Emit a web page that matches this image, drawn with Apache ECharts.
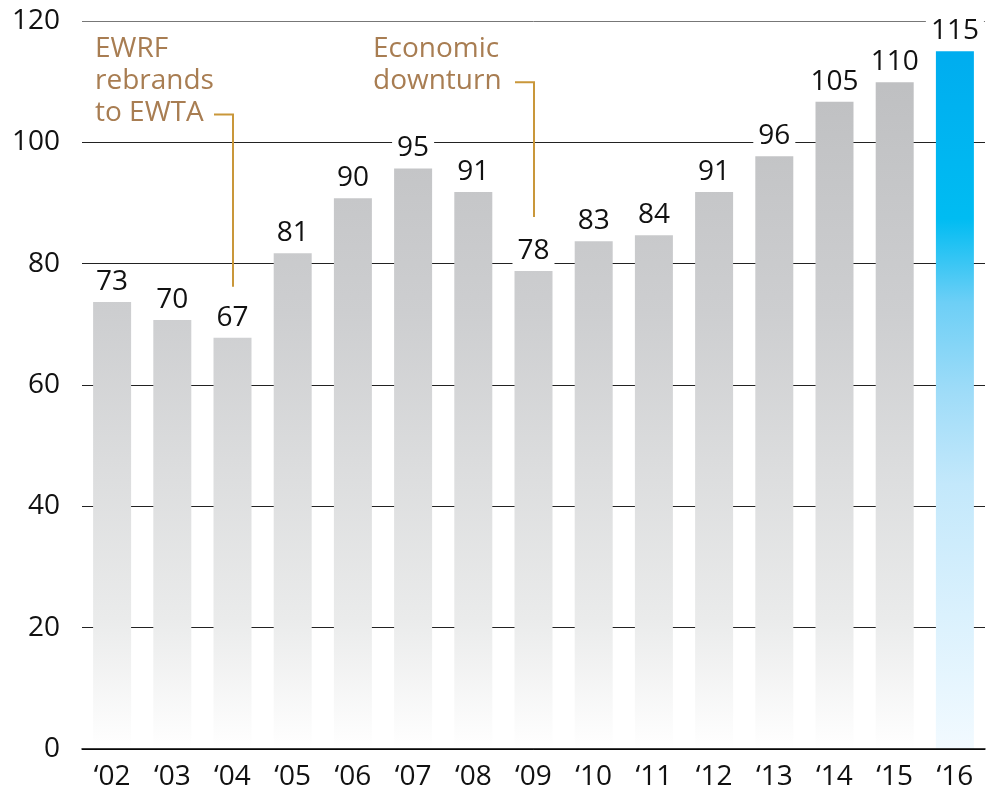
<!DOCTYPE html>
<html>
<head>
<meta charset="utf-8">
<script src="https://cdn.jsdelivr.net/npm/echarts@6/dist/echarts.min.js"></script>
<style>
  html, body { margin: 0; padding: 0; background: #fff; }
  #main { width: 999px; height: 795px; }
</style>
</head>
<body>
<div id="main"></div>
<script>
var years = ['‘02', '‘03', '‘04', '‘05', '‘06', '‘07', '‘08', '‘09', '‘10', '‘11', '‘12', '‘13', '‘14', '‘15', '‘16'];
// bar heights as drawn in the picture, and the numbers printed above them
var barHeights = [73.7, 70.7, 67.8, 81.7, 90.8, 95.7, 91.8, 78.8, 83.7, 84.7, 91.8, 97.7, 106.7, 109.9, 115];
var printed = [73, 70, 67, 81, 90, 95, 91, 78, 83, 84, 91, 96, 105, 110, 115];
var yTicks = [0, 20, 40, 60, 80, 100, 120];
var highlightYear = '‘16';

// annotations: category, text lines, leader top / bottom (axis values)
var noteYears = ['‘04', '‘09'];
var noteTexts = [['EWRF', 'rebrands', 'to EWTA'], ['Economic', 'downturn']];
var noteTop = [104.6, 109.9];
var noteBottom = [76.2, 87.7];

var FONT = 'Open Sans';
var chart = echarts.init(document.getElementById('main'));

var grayFill = new echarts.graphic.LinearGradient(0, 21, 0, 749, [
    { offset: 0, color: '#bbbcbe' },
    { offset: 0.4, color: '#cdced0' },
    { offset: 0.82, color: '#eaebeb' },
    { offset: 1, color: '#ffffff' }
], true);

var blueFill = new echarts.graphic.LinearGradient(0, 0, 0, 1, [
    { offset: 0, color: '#00adef' },
    { offset: 0.24, color: '#00bcf2' },
    { offset: 0.36, color: '#6dcff6' },
    { offset: 0.49, color: '#9fdcf8' },
    { offset: 0.62, color: '#c3e8fb' },
    { offset: 1, color: '#f2faff' }
]);

var barData = barHeights.map((v, i) => years[i] === highlightYear ?
    { value: v, itemStyle: { color: blueFill } } : v);

var option = {
    animation: false,
    grid: { left: 82, right: 14, top: 21, bottom: 46, containLabel: false },
    xAxis: {
        type: 'category',
        data: years,
        z: 3,
        axisLine: { show: true, lineStyle: { color: '#000', width: 1.5 } },
        axisTick: { show: false },
        axisLabel: { color: '#111', fontFamily: FONT, fontSize: 28, margin: 14 }
    },
    yAxis: {
        type: 'value',
        min: yTicks[0],
        max: yTicks[yTicks.length - 1],
        interval: yTicks[1] - yTicks[0],
        axisLine: { show: false },
        axisTick: { show: false },
        axisLabel: { color: '#111', fontFamily: FONT, fontSize: 28, margin: 22 },
        splitLine: {
            lineStyle: {
                color: ['#222', '#222', '#222', '#222', '#222', '#222', '#777'],
                width: 1
            }
        }
    },
    series: [{
        type: 'bar',
        data: barData,
        barWidth: 38,
        itemStyle: { color: grayFill },
        label: {
            show: true,
            position: 'top',
            distance: 6,
            formatter: p => printed[p.dataIndex],
            color: '#111',
            fontFamily: FONT,
            fontSize: 28,
            lineHeight: 28,
            backgroundColor: '#fff',
            padding: [0, 5]
        }
    }]
};
chart.setOption(option);

// leader lines and annotation text, placed through the axes
var textOffset = [138, 161];
var graphics = [];
noteYears.forEach((cat, i) => {
    var idx = years.indexOf(cat);
    var top = chart.convertToPixel({ seriesIndex: 0 }, [idx, noteTop[i]]);
    var bottom = chart.convertToPixel({ seriesIndex: 0 }, [idx, noteBottom[i]]);
    var x = Math.round(top[0]);
    graphics.push({
        type: 'polyline',
        z: 10,
        shape: { points: [[x - 19, top[1]], [x, top[1]], [x, bottom[1]]] },
        style: { stroke: '#c9973a', lineWidth: 2, fill: null }
    });
    graphics.push({
        type: 'text',
        z: 10,
        x: x - textOffset[i],
        y: top[1] + 15,
        style: {
            text: noteTexts[i].join('\n'),
            fill: '#a87d52',
            font: '28px "' + FONT + '"',
            lineHeight: 32,
            align: 'left',
            verticalAlign: 'bottom'
        }
    });
});
chart.setOption({ graphic: graphics });
</script>
</body>
</html>
